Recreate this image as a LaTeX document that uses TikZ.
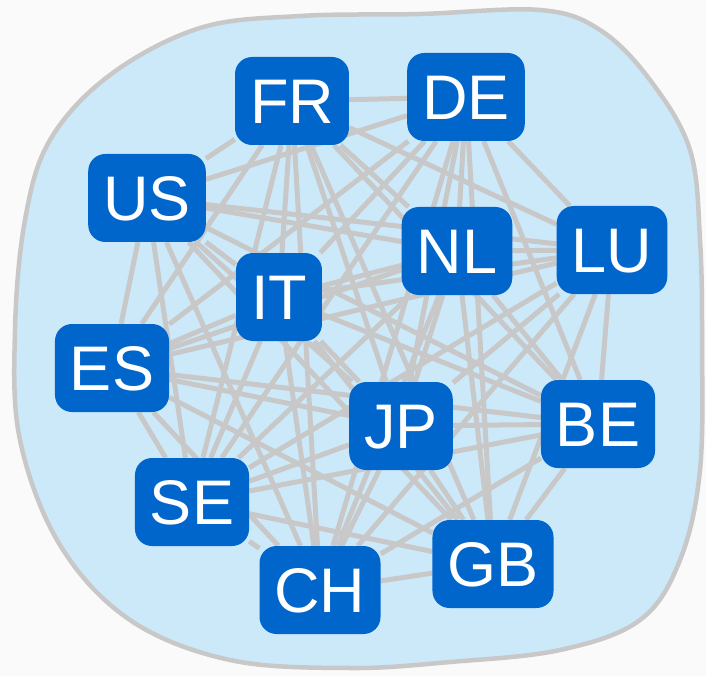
\documentclass[tikz,border=0pt]{standalone}
\usepackage{fontspec}
\setmainfont{Liberation Sans}
\usetikzlibrary{backgrounds}
\definecolor{blobfill}{HTML}{CCE9FA}
\definecolor{blobline}{HTML}{C8C8C8}
\definecolor{nodeblue}{HTML}{0066CC}
\definecolor{edgegray}{HTML}{C8C8C8}
\tikzset{
  country/.style={rounded corners=17pt, fill=nodeblue, text=white,
    font=\fontsize{63}{63}\selectfont, inner ysep=0pt, inner xsep=15pt,
    minimum height=88pt, text height=45pt, text depth=0pt},
  link/.style={draw=edgegray, line width=5pt},
  blob/.style={fill=blobfill, draw=blobline, line width=4.5pt}
}
\begin{document}
\begin{tikzpicture}[x=1pt,y=-1pt]
\useasboundingbox (0,0) rectangle (706,676);
\node[country] (FR) at (292,101) {FR};
\node[country] (DE) at (466,97) {DE};
\node[country] (US) at (147,198) {US};
\node[country] (NL) at (457,251) {NL};
\node[country] (LU) at (612,250) {LU};
\node[country] (IT) at (279,297) {IT};
\node[country] (ES) at (112,368) {ES};
\node[country] (JP) at (401,426) {JP};
\node[country] (BE) at (598,424) {BE};
\node[country] (SE) at (192,502) {SE};
\node[country] (GB) at (493,564) {GB};
\node[country] (CH) at (320,590) {CH};
\begin{scope}[on background layer]
\fill[white!98!black] (0,0) rectangle (706,676);
\draw[blob] plot[smooth cycle, tension=0.6] coordinates {
 (200,28) (300,16) (420,14) (540,10) (600,30) (650,80) (690,150) (700,240)
 (702,340) (700,470) (680,560) (640,620) (560,650) (450,662) (350,668)
 (230,660) (130,620) (60,545) (20,440) (15,330) (25,220) (50,140) (110,75)};
\foreach \a/\rest in {FR/{DE,US,NL,LU,IT,ES,JP,BE,SE,GB,CH},
  DE/{US,NL,LU,IT,ES,JP,BE,SE,GB,CH},
  US/{NL,LU,IT,ES,JP,BE,SE,GB,CH},
  NL/{LU,IT,ES,JP,BE,SE,GB,CH},
  LU/{IT,ES,JP,BE,SE,GB,CH},
  IT/{ES,JP,BE,SE,GB,CH},
  ES/{JP,BE,SE,GB,CH},
  JP/{BE,SE,GB,CH},
  BE/{SE,GB,CH},
  SE/{GB,CH},
  GB/{CH}}{
  \foreach \b in \rest { \draw[link] (\a) -- (\b); }
}
\end{scope}
\end{tikzpicture}
\end{document}
